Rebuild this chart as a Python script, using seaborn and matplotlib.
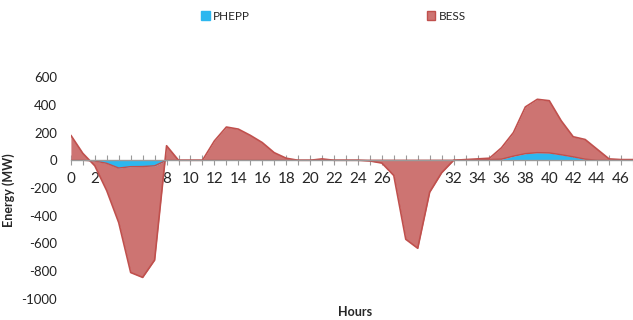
import matplotlib
matplotlib.use("Agg")
import matplotlib.pyplot as plt
import seaborn as sns
import numpy as np
import pandas as pd
from matplotlib.patches import Patch

hours = list(range(48))
# PHEPP energy (MW)
phepp = [0, 0, -5, -22, -56, -46, -45, -40, 0, 0,
         0, 0, 0, 0, 0, 0, 0, 0, 0, 0,
         0, 0, 0, 0, 0, 0, 0, 0, 0, 0,
         0, 0, 0, 3, 4, 5, 8, 30, 48, 55,
         53, 40, 25, 8, 0, 0, 0, 0]
# BESS energy, stacked total top (MW)
bess_total = [180, 50, -40, -220, -450, -810, -845, -720, 105, 0,
              0, 0, 140, 240, 225, 180, 128, 55, 15, 0,
              0, 10, 0, 0, 0, -5, -20, -110, -570, -635,
              -230, -90, 0, 5, 10, 15, 90, 200, 385, 440,
              430, 285, 170, 150, 80, 10, 5, 5]
y_ticks = list(range(-1000, 601, 200))
x_ticks = list(range(0, 47, 2))

df = pd.DataFrame({"Hour": hours, "PHEPP": phepp, "BESS": bess_total})

sns.set_theme(style="white")
plt.rcParams["font.family"] = ["Lato", "DejaVu Sans"]

fig = plt.figure(figsize=(6.33, 3.2), dpi=100)
ax = fig.add_axes([0.112, 0.066, 0.888, 0.693])

red_fill = "#CD7472"
red_edge = "#C0504D"
blue_fill = "#2DB7EF"

ax.fill_between(df["Hour"], df["PHEPP"], df["BESS"], color=red_fill, lw=0, zorder=2)
sns.lineplot(data=df, x="Hour", y="BESS", ax=ax, color=red_edge, lw=1.2, zorder=3)
ax.fill_between(df["Hour"], 0, df["PHEPP"], color=blue_fill, lw=0, zorder=4)
sns.lineplot(data=df, x="Hour", y="PHEPP", ax=ax, color=red_edge, lw=1.0, zorder=5)

ax.set_xlim(0, 47)
ax.set_ylim(-1000, 600)
ax.set_yticks(y_ticks)
ax.set_yticklabels([str(v) for v in y_ticks], fontsize=9.5, color="#222222")
ax.set_xticks(x_ticks)
ax.set_xticklabels([str(v) for v in x_ticks], fontsize=9.5, color="#222222")
ax.set_xticks(hours, minor=True)

for s in ["top", "right", "left"]:
    ax.spines[s].set_visible(False)
ax.spines["bottom"].set_position(("data", 0))
ax.spines["bottom"].set_color("#9a9a9a")
ax.spines["bottom"].set_linewidth(1.0)
ax.spines["bottom"].set_zorder(6)
ax.tick_params(axis="x", which="both", direction="inout", length=7, width=0.8,
               color="#9a9a9a", pad=5, bottom=True)
ax.tick_params(axis="y", length=0, pad=10)

ax.set_xlabel("")
ax.set_ylabel("Energy (MW)", fontsize=9, fontweight="bold")
ax.yaxis.set_label_coords(-0.1, 0.49)
fig.text(0.561, 0.025, "Hours", fontsize=9, fontweight="bold", ha="center", va="center")

handles = [Patch(facecolor=blue_fill, edgecolor=blue_fill, label="PHEPP"),
           Patch(facecolor=red_fill, edgecolor=red_edge, label="BESS")]
fig.legend(handles=handles, loc="center", bbox_to_anchor=(0.527, 0.95), ncol=2,
           frameon=False, fontsize=8.5, handlelength=0.7, handleheight=0.7,
           handletextpad=0.3, columnspacing=15)

fig.savefig("out.png", dpi=100)
